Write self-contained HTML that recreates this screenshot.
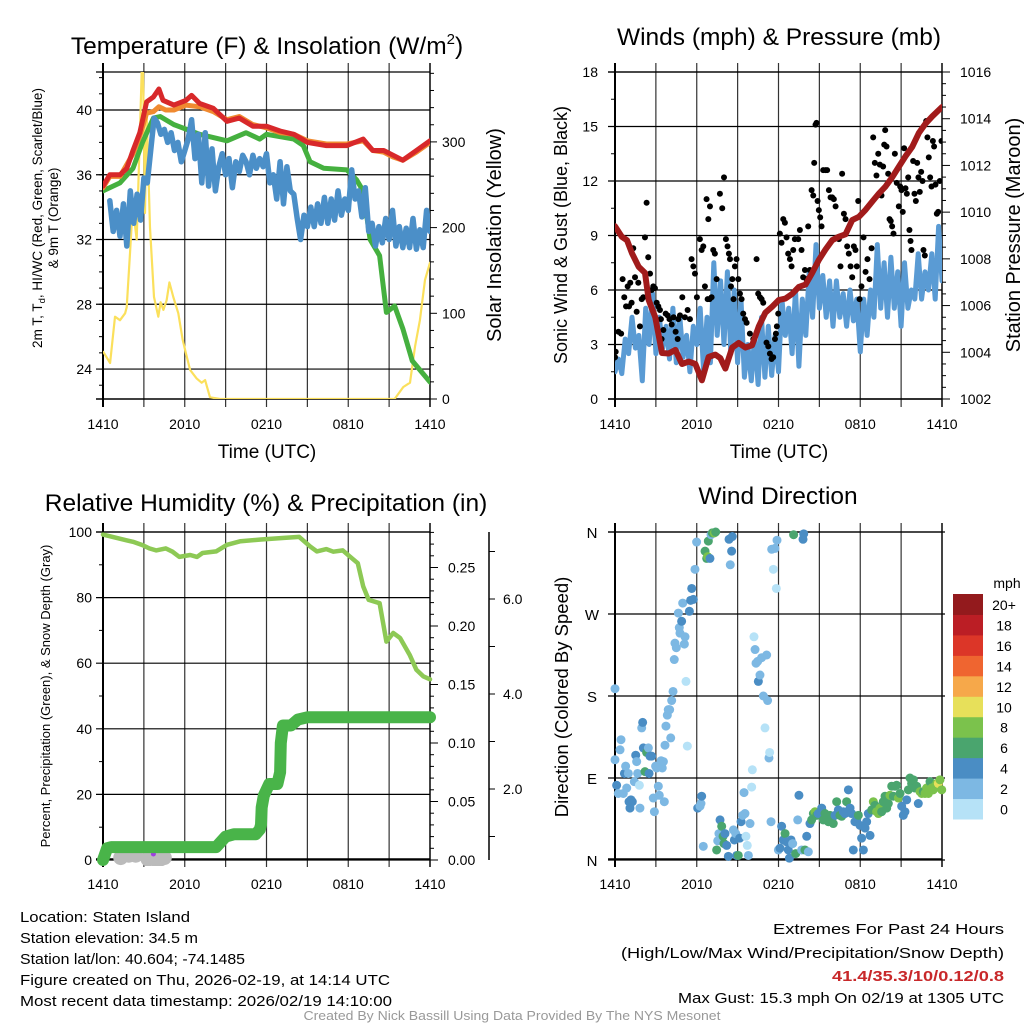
<!DOCTYPE html>
<html><head><meta charset="utf-8"><style>
html,body{margin:0;padding:0;background:#fff;}
svg{display:block;font-family:"Liberation Sans",sans-serif;}
</style></head><body>
<svg id="fig" width="1024" height="1024" viewBox="0 0 1024 1024" xmlns="http://www.w3.org/2000/svg">
<defs>
<clipPath id="c1"><rect x="103" y="72" width="327" height="327"/></clipPath>
<clipPath id="c2"><rect x="615" y="72" width="327" height="327"/></clipPath>
<clipPath id="c3"><rect x="97" y="526" width="339" height="340"/></clipPath>
<clipPath id="c4"><rect x="609" y="526" width="339" height="340"/></clipPath>
</defs>
<text x="267" y="54" font-size="24.5" text-anchor="middle">Temperature (F) &amp; Insolation (W/m<tspan font-size="15" dy="-10">2</tspan><tspan dy="10">)</tspan></text>
<text x="779" y="45" font-size="24.5" text-anchor="middle">Winds (mph) &amp; Pressure (mb)</text>
<text x="266" y="511" font-size="24.5" text-anchor="middle">Relative Humidity (%) &amp; Precipitation (in)</text>
<text x="778" y="504" font-size="24.5" text-anchor="middle">Wind Direction</text>

<text transform="translate(42,218) rotate(-90)" font-size="13.5" text-anchor="middle">2m T, T<tspan font-size="9.5" dy="3">d</tspan><tspan dy="-3">, HI/WC (Red, Green, Scarlet/Blue)</tspan></text>
<text transform="translate(58,218) rotate(-90)" font-size="13.5" text-anchor="middle">&amp; 9m T (Orange)</text>
<text transform="translate(501,235) rotate(-90)" font-size="20" text-anchor="middle">Solar Insolation (Yellow)</text>
<text transform="translate(567,235) rotate(-90)" font-size="18" text-anchor="middle">Sonic Wind &amp; Gust (Blue, Black)</text>
<text transform="translate(1020,235) rotate(-90)" font-size="20" text-anchor="middle">Station Pressure (Maroon)</text>
<text transform="translate(50,696) rotate(-90)" font-size="13" text-anchor="middle">Percent, Precipitation (Green), &amp; Snow Depth (Gray)</text>
<text transform="translate(568,697) rotate(-90)" font-size="18.5" text-anchor="middle">Direction (Colored By Speed)</text>
<text x="267" y="458" font-size="19" text-anchor="middle">Time (UTC)</text>
<text x="779" y="458" font-size="19" text-anchor="middle">Time (UTC)</text>

<g font-family="'Liberation Sans Narrow','Liberation Sans',sans-serif" font-size="15">
<text x="20" y="922" textLength="170" lengthAdjust="spacingAndGlyphs">Location: Staten Island</text>
<text x="20" y="943" textLength="178" lengthAdjust="spacingAndGlyphs">Station elevation: 34.5 m</text>
<text x="20" y="964" textLength="225" lengthAdjust="spacingAndGlyphs">Station lat/lon: 40.604; -74.1485</text>
<text x="20" y="985" textLength="370" lengthAdjust="spacingAndGlyphs">Figure created on Thu, 2026-02-19, at 14:14 UTC</text>
<text x="20" y="1006" textLength="372" lengthAdjust="spacingAndGlyphs">Most recent data timestamp: 2026/02/19 14:10:00</text>
<text x="1004" y="934" text-anchor="end" textLength="231" lengthAdjust="spacingAndGlyphs">Extremes For Past 24 Hours</text>
<text x="1004" y="958" text-anchor="end" textLength="383" lengthAdjust="spacingAndGlyphs">(High/Low/Max Wind/Precipitation/Snow Depth)</text>
<text x="1004" y="981" text-anchor="end" fill="#c8282a" font-weight="bold" textLength="172" lengthAdjust="spacingAndGlyphs">41.4/35.3/10/0.12/0.8</text>
<text x="1004" y="1003" text-anchor="end" textLength="326" lengthAdjust="spacingAndGlyphs">Max Gust: 15.3 mph On 02/19 at 1305 UTC</text>
<text x="512" y="1020" text-anchor="middle" fill="#999" font-size="13" textLength="417" lengthAdjust="spacingAndGlyphs">Created By Nick Bassill Using Data Provided By The NYS Mesonet</text>
</g>
</svg>
<script>
// ---------- data ----------
const xTickHours = [0, 6, 12, 18, 24];
const xTickLabels = ["1410", "2010", "0210", "0810", "1410"];

const tempT = [0,0.5,1.25,1.75,2.2,2.7,3.2,3.7,4.1,4.4,5.2,6.1,6.5,7.1,8.1,9.1,10.0,11.0,12.0,13.0,14.0,15.0,16.4,17.9,19.1,19.8,20.6,21.3,22.0,23.0,24.0];
const tempV = [35.3,36.0,36.0,36.4,37.5,38.6,40.5,40.8,41.3,40.6,40.3,40.6,40.9,40.4,40.1,39.3,39.5,39.0,39.0,38.7,38.5,38.0,37.8,37.8,38.2,37.5,37.5,37.2,36.9,37.5,38.1];
const t9mT = [0,0.5,1.25,2.2,2.7,3.2,3.7,4.1,4.6,5.2,6.1,7.1,8.1,9.1,10.0,11.0,12.0,13.0,14.0,15.0,16.4,17.9,19.1,19.8,20.6,21.3,22.0,23.0,24.0];
const t9mV = [35.2,35.9,35.9,37.3,38.4,39.8,39.9,40.2,40.0,40.0,40.3,40.2,39.9,39.4,39.6,39.1,38.9,38.6,38.5,38.1,37.9,37.9,38.1,37.5,37.4,37.1,36.9,37.4,38.0];
const dewT = [0,1.25,2.2,2.9,3.7,4.2,5.2,7.1,9.1,10.5,11.5,12.0,14.0,14.7,15.2,16.2,17.9,18.6,19.1,19.6,20.3,20.8,21.4,22.0,22.7,23.5,24.0];
const dewV = [35.0,35.5,36.4,38.0,39.5,39.6,39.1,38.5,38.1,38.6,38.2,38.5,38.2,37.8,36.8,36.4,36.3,35.7,35.0,32.0,31.0,27.5,27.9,26.5,24.5,23.7,23.2];
const wcStart = 0.5, wcStep = 0.25;
const wcV = [34.4,32.5,33.8,32.2,34.2,31.6,35.0,33.0,34.8,33.2,35.8,35.5,37.5,39.5,39.2,38.5,38.8,38.0,38.6,37.5,38.0,36.8,37.5,38.2,39.4,37.0,38.5,35.5,38.6,35.3,37.6,35.0,36.5,37.3,36.0,37.0,35.2,36.8,36.2,37.2,36.8,36.0,37.2,36.4,37.0,36.5,37.3,35.5,36.0,34.5,36.8,34.2,36.5,35.0,34.8,33.3,32.0,33.5,32.8,34.0,32.8,34.2,33.0,34.6,33.0,34.5,33.2,35.0,33.5,34.5,33.8,36.3,34.5,35.0,33.4,35.2,32.5,33.0,31.6,32.8,31.8,33.3,32.0,33.8,31.6,32.8,31.5,32.7,31.5,33.3,31.4,32.6,31.5,33.8,32.5];
const solarT = [0.02,0.52,0.88,1.25,1.62,1.74,1.98,2.18,2.47,2.72,2.91,3.08,3.2,3.45,3.74,4.06,4.23,4.43,4.67,4.87,5.16,5.53,5.85,6.09,6.39,6.87,7.24,7.49,7.85,8.6,21.4,22.04,22.53,22.9,23.26,23.63,24.0];
const solarV = [55,42,96,92,100,107,170,224,186,317,420,217,337,200,119,96,113,104,115,136,119,100,69,53,34,24,19,22,2,0,0,14,19,61,92,139,159];
const tempTicks = [24,28,32,36,40];
const solarTicks = [0,100,200,300];

const windStart = 0, windStep = 0.25;
const windV = [1.5,2.2,1.4,3.3,2.5,4.5,2.8,3.5,1.0,5.0,3.0,5.8,2.5,4.5,2.8,4.0,2.2,5.0,2.0,4.6,2.3,3.5,1.5,4.0,3.0,5.0,1.5,4.5,2.0,7.5,3.5,6.5,3.0,7.0,2.5,6.0,2.0,5.5,1.2,3.0,1.0,3.5,0.8,4.5,1.2,4.0,1.3,3.5,1.5,5.5,3.5,5.0,2.5,6.0,1.8,5.5,3.5,7.0,4.5,8.5,5.0,6.8,4.5,6.5,4.0,6.5,4.5,5.8,4.0,6.0,4.3,5.5,2.6,5.5,3.5,6.0,4.5,8.5,5.0,7.5,4.5,7.8,5.0,7.0,4.0,7.5,5.0,6.0,5.5,8.0,5.5,7.0,6.0,8.0,5.5,9.5,6.5];
const gustT = [0,0.05,0.25,0.45,0.56,0.68,0.81,0.93,1.03,1.12,1.22,1.34,1.47,1.59,1.71,1.83,1.96,2.08,2.2,2.32,2.44,2.57,2.69,2.81,2.93,3.06,3.18,3.3,3.37,3.42,3.55,3.72,3.86,4.0,4.16,4.3,4.45,4.6,4.65,4.77,4.94,5.13,5.33,5.5,5.62,5.75,5.87,6.01,6.23,6.36,6.48,6.6,6.8,6.94,7.09,6.72,6.85,6.97,7.21,7.33,7.46,7.7,7.87,8.0,8.14,8.26,8.36,8.44,8.51,8.61,8.7,8.8,8.92,9.05,9.17,9.29,9.41,9.54,9.66,9.9,10.15,10.39,10.51,10.64,10.76,10.88,11.12,11.25,11.37,11.49,11.61,11.74,11.81,11.88,11.98,12.1,12.22,12.35,12.47,12.59,12.71,12.84,12.96,13.08,13.2,13.45,13.57,13.69,13.81,13.94,14.06,14.18,14.3,14.43,14.55,14.62,14.72,14.79,14.87,14.96,15.06,15.16,15.28,15.45,15.57,15.7,15.82,15.94,16.06,16.19,16.31,16.43,16.55,16.67,16.8,16.92,17.04,17.16,17.29,17.41,17.53,17.65,17.75,17.85,17.95,18.09,18.24,18.39,18.53,18.68,18.83,18.95,19.07,19.19,19.32,19.44,19.56,19.68,19.76,19.83,19.93,20.05,20.15,20.24,20.34,20.44,20.54,20.68,20.83,20.93,21.03,21.12,21.22,21.32,21.42,21.52,21.61,21.69,21.76,21.88,21.98,22.08,22.18,22.27,22.37,22.47,22.57,22.64,22.74,22.84,22.93,23.03,23.13,23.23,23.33,23.42,23.52,23.62,23.72,23.84,23.96];
const gustV = [2.3,2.6,3.7,3.6,6.6,5.6,5.1,6.2,5.1,6.4,5.3,8.3,6.7,4.8,6.4,4.0,5.5,5.6,8.9,10.8,7.8,6.9,6.0,6.2,6.1,5.3,5.1,4.9,4.4,3.3,3.8,4.7,4.6,4.4,4.1,4.5,3.7,3.3,4.4,4.6,5.6,4.5,4.9,4.4,7.7,7.3,6.9,5.6,8.8,8.2,8.4,6.2,5.5,5.5,5.6,11.0,9.9,10.6,8.2,8.0,6.6,11.3,10.5,12.2,8.8,8.4,8.0,7.7,6.2,6.6,5.5,7.3,7.7,6.6,5.8,5.5,4.7,4.4,4.2,3.6,3.3,7.7,5.8,5.6,5.5,5.3,3.1,2.9,2.5,2.2,2.3,3.3,3.6,4.0,4.7,9.1,8.6,9.9,9.7,8.9,8.0,7.7,7.3,8.2,8.8,8.8,9.3,8.2,6.7,7.1,6.6,9.5,7.1,11.5,11.2,13.0,15.1,15.2,10.9,10.4,10.0,9.5,12.6,12.6,12.6,11.5,11.1,11.1,11.0,10.6,8.9,8.8,7.3,12.4,10.2,9.9,8.4,8.0,7.3,6.7,8.4,8.2,7.3,10.9,5.5,6.2,8.9,7.0,7.7,6.6,8.3,14.4,13.0,12.3,13.5,12.9,11.2,12.8,14.0,14.8,13.9,12.4,9.9,9.8,9.5,9.1,13.5,11.9,10.6,11.7,11.5,10.3,13.8,11.6,11.3,12.2,9.3,8.7,8.2,13.1,11.3,10.9,13.0,12.2,11.4,12.5,12.0,8.2,7.9,15.3,14.4,13.3,12.2,11.7,14.2,13.9,11.8,10.2,10.3,12.0,14.2];
const presT = [0,0.5,0.88,1.25,1.74,2.2,2.47,2.96,3.45,3.94,4.43,4.92,5.41,5.9,6.38,6.87,7.36,7.73,8.1,8.6,9.08,9.57,10.06,10.55,11.04,11.53,12.02,12.51,13.0,13.49,13.98,14.47,14.96,15.45,15.94,16.43,16.92,17.41,17.9,18.39,18.88,19.37,19.86,20.35,20.84,21.33,21.82,22.31,22.8,23.28,24.0];
const presV = [1009.4,1008.95,1008.8,1008.24,1007.66,1007.4,1006.24,1005.5,1003.97,1003.95,1004.1,1003.5,1003.6,1003.5,1002.8,1003.8,1003.9,1003.75,1003.3,1004.2,1004.4,1004.2,1004.3,1005.1,1005.7,1005.95,1006.24,1006.3,1006.5,1006.8,1006.9,1007.4,1007.95,1008.4,1008.8,1008.95,1009.05,1009.66,1009.8,1010.1,1010.45,1010.8,1011.1,1011.5,1011.95,1012.4,1012.8,1013.4,1013.8,1014.1,1014.5];
const windTicks = [0,3,6,9,12,15,18];
const presTicks = [1002,1004,1006,1008,1010,1012,1014,1016];

const rhT = [0,1.2,2.2,2.9,3.4,3.9,4.6,5.1,5.6,6.4,6.9,7.3,8.3,9.1,10.1,11.6,13.3,14.4,15.2,15.7,16.4,16.9,17.6,18.1,18.7,19.1,19.5,20.3,20.8,21.3,21.8,22.5,23.0,23.5,24.0];
const rhV = [99.2,98.0,97.0,96.0,95.0,94.4,95.0,94.0,92.4,93.0,92.4,93.6,94.1,96.1,97.2,97.7,98.2,98.5,95.6,94.1,94.8,94.0,94.4,92.6,90.5,83.4,79.3,78.3,66.6,69.2,67.7,62.6,58.0,56.0,55.1];
const precipT = [0,0.3,0.6,8.3,9.0,9.6,11.2,11.5,11.6,11.65,11.8,12.2,12.6,12.8,13.0,13.05,13.2,13.8,14.3,15.0,24.0];
const precipV = [0,0.010,0.011,0.011,0.020,0.022,0.022,0.026,0.030,0.045,0.055,0.065,0.065,0.065,0.075,0.100,0.115,0.115,0.120,0.122,0.122];
const snowT = [1.3,1.9,2.4,3.3,3.8,4.2,4.5];
const snowV = [0.55,0.6,0.6,0.52,0.52,0.52,0.55];
const rhTicks = [0,20,40,60,80,100];
const precipTicks = [0,0.05,0.10,0.15,0.20,0.25];
const snowTicks = [2,4,6];

const dirT = [0,0,0.12,0.24,0.37,0.44,0.61,0.69,0.78,0.86,0.98,1.03,1.1,1.17,1.27,1.42,1.52,1.59,1.66,1.79,1.83,1.96,2.03,2.08,2.2,2.32,2.45,2.5,2.57,2.69,2.81,2.89,2.98,3.06,3.18,3.25,3.38,3.47,3.55,3.62,3.67,3.74,3.84,3.91,4.01,4.09,4.16,4.26,4.35,4.4,4.5,4.65,4.72,4.77,4.89,4.97,5.09,5.14,5.21,5.31,5.46,5.55,5.63,5.75,5.87,5.99,6.07,6.24,6.31,6.36,6.48,6.61,6.73,6.8,6.85,6.97,7.05,7.14,7.29,7.39,7.46,7.54,7.63,7.71,7.83,7.93,8.0,8.07,8.2,8.32,8.37,8.46,8.56,8.61,8.69,8.76,8.86,8.93,9.05,9.15,9.25,9.37,9.47,9.54,9.61,9.71,9.79,9.91,10.03,10.08,10.2,10.28,10.35,10.47,10.52,10.64,10.76,10.89,11.01,11.13,11.2,11.3,11.35,11.45,11.5,11.62,11.74,11.84,11.89,11.99,12.11,12.23,12.35,12.48,12.6,12.72,12.8,12.92,13.04,13.11,13.26,13.41,13.5,13.7,13.8,13.85,13.94,14.07,14.19,14.31,14.43,14.56,14.68,14.8,14.92,15.17,15.29,15.41,15.54,15.66,15.78,15.9,16.02,16.15,16.27,16.39,16.51,16.64,16.76,16.88,17.0,17.13,17.25,17.37,17.49,17.61,17.74,17.86,17.98,18.1,18.23,18.35,18.47,18.59,18.72,18.84,18.96,19.08,19.2,19.33,19.45,19.57,19.69,19.82,19.94,20.06,20.18,20.31,20.43,20.55,20.67,20.8,20.92,21.04,21.16,21.28,21.41,21.53,21.65,21.77,21.9,22.02,22.14,22.26,22.39,22.51,22.63,22.75,22.87,23.0,23.12,23.24,23.36,23.49,23.61,23.73,23.85,23.98];
const dirDeg = [188,110,82,73,121,132,73,95,103,79,95,64,57,66,64,86,115,108,95,82,57,145,151,123,97,118,123,95,114,114,68,53,103,101,81,71,109,101,108,64,126,147,159,165,165,134,175,185,220,238,233,271,255,249,262,282,237,245,196,125,273,285,298,286,319,349,57,59,62,70,15,339,331,333,350,331,357,359,359,360,11,21,29,44,37,26,18,29,16,4,352,324,339,355,33,22,29,5,5,24,42,49,74,51,26,16,5,40,80,99,245,231,216,218,196,203,222,180,145,225,175,112,118,42,341,319,342,298,351,11,13,37,22,29,20,11,2,22,18,357,7,44,71,11,352,358,11,26,9,40,44,51,53,49,51,57,44,51,48,42,49,44,40,49,64,55,49,48,53,51,64,77,57,51,11,42,44,49,38,24,11,35,42,51,27,55,64,60,53,51,57,53,64,70,57,62,71,81,70,81,82,68,73,59,49,53,66,77,90,84,88,79,81,62,75,73,75,73,79,73,86,79,77,81,84,84,88,77];
const dirSpd = [3,3,5,3,3,3,3,5,3,3,3,5,5,5,5,3,5,3,3,1,3,3,5,5,7,7,3,5,5,5,3,3,3,3,3,3,3,3,3,3,3,3,3,3,3,3,3,3,3,3,3,3,3,3,5,3,3,3,1,1,5,5,5,5,3,3,5,3,3,5,3,7,7,9,7,5,3,7,9,7,7,3,3,5,7,7,7,5,5,5,5,3,5,5,3,5,3,5,7,5,5,3,3,3,1,1,3,3,1,1,1,3,3,3,5,3,3,3,1,3,3,3,1,3,3,1,3,1,3,3,5,5,5,7,5,5,5,5,3,7,7,3,5,3,5,5,7,5,3,5,7,7,9,7,5,5,7,7,7,7,7,7,7,5,7,5,7,7,5,5,7,5,5,5,5,5,5,7,5,5,5,5,5,5,5,7,9,7,9,9,9,7,7,7,7,7,9,7,7,7,7,9,7,5,5,5,5,7,7,7,7,7,7,5,9,9,7,9,9,9,7,9,9,9,9,11,9,9];
const dirTicks = [0,90,180,270,360];
const dirTickLabels = ["N","E","S","W","N"];
const speedBins = ["0","2","4","6","8","10","12","14","16","18","20+"];
const speedColors = ["#b6e2f7","#7db8e3","#4a8dc4","#4aa56e","#7bc24c","#e7e05a","#f6a84a","#ef6530","#dc3628","#bb1e25","#931a1d"];

// ---------- helpers ----------
const NS = "http://www.w3.org/2000/svg";
const svg = document.getElementById("fig");
function mk(tag, attrs, name, parent) {
  const el = document.createElementNS(NS, tag);
  for (const k in attrs) el.setAttribute(k, attrs[k]);
  
  
  (parent || svg).appendChild(el);
  return el;
}
function txt(x, y, s, size, anchor, name, parent) {
  const el = mk("text", {x: x, y: y, "font-size": size, "text-anchor": anchor || "middle"}, name, parent);
  el.textContent = s;
  return el;
}
function poly(xs, ys, color, w, name, clip) {
  let d = "";
  for (let i = 0; i < xs.length; i++) d += (i ? "L" : "M") + xs[i].toFixed(1) + " " + ys[i].toFixed(1);
  return mk("path", {d: d, fill: "none", stroke: color, "stroke-width": w, "stroke-linejoin": "round", "stroke-linecap": "round", "clip-path": clip}, name);
}

function frame(L, T, name) {
  const R = L + 327, B = T + 327;
  const g = mk("g", {}, name + "-frame");
  for (let h = 3; h < 24; h += 3) {
    const x = L + h * 327 / 24;
    mk("line", {x1: x, y1: T - 9, x2: x, y2: B + 8, stroke: "#333", "stroke-width": 1.2}, name + "-vgrid", g);
  }
  mk("line", {x1: L, y1: T - 9, x2: L, y2: B + 8, stroke: "#000", "stroke-width": 2}, name + "-left-axis", g);
  mk("line", {x1: R, y1: T - 9, x2: R, y2: B + 8, stroke: "#444", "stroke-width": 2}, name + "-right-axis", g);
  mk("line", {x1: L - 7, y1: T, x2: R, y2: T, stroke: "#000", "stroke-width": 1.2}, name + "-top-axis", g);
  mk("line", {x1: L - 7, y1: B, x2: R, y2: B, stroke: "#000", "stroke-width": 1.5}, name + "-bottom-axis", g);
  xTickHours.forEach((h, i) => {
    txt(L + h * 327 / 24, B + 30, xTickLabels[i], 14, "middle", name + "-x-tick-label", g);
  });
  return g;
}

// ---------- Panel 1 ----------
const X1 = t => 103 + t * 327 / 24;
const YT = v => 110 + (40 - v) * 16.19;
const YS = v => 399 - v * 0.857;
const g1 = frame(103, 72, "temp");
for (let v = 23; v <= 42; v++) mk("line", {x1: 99, y1: YT(v), x2: 103, y2: YT(v), stroke: "#000"}, "temp-minor-tick", g1);
tempTicks.forEach(v => {
  mk("line", {x1: 96, y1: YT(v), x2: 430, y2: YT(v), stroke: "#000", "stroke-width": 1.2}, "temp-gridline", g1);
  txt(92, YT(v) + 5, String(v), 14, "end", "temp-tick-label", g1);
});
for (let v = 0; v <= 380; v += 20) mk("line", {x1: 430, y1: YS(v), x2: v % 100 ? 434 : 437, y2: YS(v), stroke: "#000"}, "solar-tick", g1);
solarTicks.forEach(v => txt(442, YS(v) + 5, String(v), 14, "start", "solar-tick-label", g1));
poly(solarT.map(X1), solarV.map(YS), "#fbe05c", 2.2, "solar-line", "url(#c1)");
poly(dewT.map(X1), dewV.map(YT), "#45b03f", 5, "dewpoint-line", "url(#c1)");
poly(wcV.map((v, i) => X1(wcStart + i * wcStep)), wcV.map(YT), "#4b8fc8", 5.5, "windchill-line", "url(#c1)");
poly(t9mT.map(X1), t9mV.map(YT), "#f08a30", 5, "temp-9m-line", "url(#c1)");
poly(tempT.map(X1), tempV.map(YT), "#d8282a", 5, "temp-2m-line", "url(#c1)");

// ---------- Panel 2 ----------
const X2 = t => 615 + t * 327 / 24;
const YW = v => 399 - v * 327 / 18;
const YP = p => 399 - (p - 1002) * 327 / 14;
const g2 = frame(615, 72, "wind");
for (let v = 0; v <= 18; v += 1.5) mk("line", {x1: 611, y1: YW(v), x2: 615, y2: YW(v), stroke: "#000"}, "wind-minor-tick", g2);
windTicks.forEach(v => {
  mk("line", {x1: 608, y1: YW(v), x2: 942, y2: YW(v), stroke: "#000", "stroke-width": 1.2}, "wind-gridline", g2);
  txt(598, YW(v) + 5, String(v), 14, "end", "wind-tick-label", g2);
});
for (let p = 1002; p <= 1016; p += 0.5) mk("line", {x1: 942, y1: YP(p), x2: (p % 2 === 0) ? 950 : 946, y2: YP(p), stroke: "#000"}, "pressure-tick", g2);
presTicks.forEach(p => txt(960, YP(p) + 5, String(p), 14, "start", "pressure-tick-label", g2));
poly(windV.map((v, i) => X2(windStart + i * windStep)), windV.map(YW), "#5a9bd4", 5, "sonic-wind-line", "url(#c2)");
const gg = mk("g", {"clip-path": "url(#c2)"}, "gust-points");
gustT.forEach((t, i) => {
  const c = document.createElementNS(NS, "circle");
  c.setAttribute("cx", X2(t)); c.setAttribute("cy", YW(gustV[i])); c.setAttribute("r", 3); c.setAttribute("fill", "#000");
  
  
  gg.appendChild(c);
});
poly(presT.map(X2), presV.map(YP), "#a11b1b", 6, "pressure-line", "url(#c2)");

// ---------- Panel 3 ----------
const X3 = t => 103 + t * 327 / 24;
const YR = v => 860 - v * 3.28;
const YPr = v => 860 - v * 1170;
const YSn = v => 884 - v * 47.5;
const g3 = frame(103, 532, "rh");
for (let v = 10; v < 100; v += 20) mk("line", {x1: 99, y1: YR(v), x2: 103, y2: YR(v), stroke: "#000"}, "rh-minor-tick", g3);
rhTicks.forEach(v => {
  mk("line", {x1: 96, y1: YR(v), x2: 430, y2: YR(v), stroke: "#000", "stroke-width": 1.2}, "rh-gridline", g3);
  txt(92, YR(v) + 5, String(v), 14, "end", "rh-tick-label", g3);
});
for (let k = 0; k <= 28; k++) { const v = k / 100; mk("line", {x1: 430, y1: YPr(v), x2: k % 5 ? 434 : 438, y2: YPr(v), stroke: "#000"}, "precip-tick", g3); }
precipTicks.forEach(v => txt(448, YPr(v) + 5, v.toFixed(2), 14, "start", "precip-tick-label", g3));
mk("line", {x1: 489, y1: 532, x2: 489, y2: 860, stroke: "#000", "stroke-width": 1.5}, "snow-axis", g3);
for (let v = 1; v <= 7; v++) mk("line", {x1: 489, y1: YSn(v), x2: 495, y2: YSn(v), stroke: "#000"}, "snow-tick", g3);
snowTicks.forEach(v => txt(503, YSn(v) + 5, v.toFixed(1), 14, "start", "snow-tick-label", g3));
const sg = mk("g", {"clip-path": "url(#c3)"}, "snow-points");
snowT.forEach((t, i) => {
  const c = document.createElementNS(NS, "circle");
  c.setAttribute("cx", X3(t)); c.setAttribute("cy", 860 - (snowV[i] - 0.5) * 47.5); c.setAttribute("r", 7.5); c.setAttribute("fill", "#bbb");
  
  
  sg.appendChild(c);
});
mk("circle", {cx: X3(3.7), cy: 854, r: 2.5, fill: "#a040e0"}, "snow-marker-point");
poly(precipT.map(X3), precipV.map(YPr), "#49b449", 12, "precip-line", "url(#c3)");
poly(rhT.map(X3), rhV.map(YR), "#8dc955", 4.5, "rh-line", "url(#c3)");

// ---------- Panel 4 ----------
const X4 = t => 615 + t * 327 / 24;
const YD = d => 860 - d * 328 / 360;
const g4 = frame(615, 532, "dir");
dirTicks.forEach((d, i) => {
  mk("line", {x1: 608, y1: YD(d), x2: 945, y2: YD(d), stroke: "#000", "stroke-width": 1.2}, "dir-gridline", g4);
  txt(592, YD(d) + 6, dirTickLabels[i], 15, "middle", "dir-tick-label", g4);
});
const dg = mk("g", {"clip-path": "url(#c4)"}, "direction-points");
dirT.forEach((t, i) => {
  const bin = Math.min(10, Math.floor(dirSpd[i] / 2));
  const c = document.createElementNS(NS, "circle");
  c.setAttribute("cx", X4(t)); c.setAttribute("cy", YD(dirDeg[i])); c.setAttribute("r", 4.5); c.setAttribute("fill", speedColors[bin]);
  
  
  dg.appendChild(c);
});
const cb = mk("g", {}, "speed-colorbar");
txt(1007, 588, "mph", 14, "middle", "colorbar-unit-label", cb);
speedBins.forEach((lab, i) => {
  const k = speedBins.length - 1 - i;
  const y = 594 + k * 225 / 11;
  mk("rect", {x: 953, y: y, width: 30, height: 225 / 11 + 0.5, fill: speedColors[i]}, "colorbar-swatch", cb);
  txt(1004, y + 16, lab, 14, "middle", "colorbar-label", cb);
});
</script>
</body></html>
